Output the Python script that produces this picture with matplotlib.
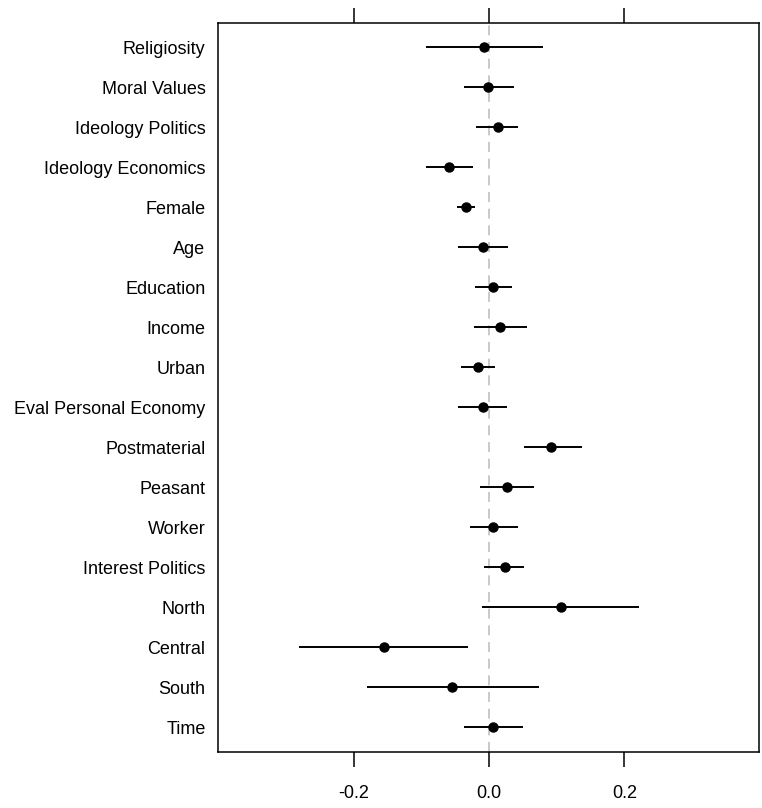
import matplotlib.pyplot as plt
import numpy as np

plt.rcParams['font.family'] = ['Liberation Sans Narrow', 'Liberation Sans', 'DejaVu Sans']

# coefficient estimates with lower / upper interval bounds
variables = ["Religiosity", "Moral Values", "Ideology Politics", "Ideology Economics",
             "Female", "Age", "Education", "Income", "Urban", "Eval Personal Economy",
             "Postmaterial", "Peasant", "Worker", "Interest Politics", "North",
             "Central", "South", "Time"]
estimate = [-0.008, -0.002, 0.013, -0.060, -0.034, -0.009, 0.006, 0.016, -0.016, -0.009,
            0.092, 0.027, 0.006, 0.023, 0.106, -0.156, -0.055, 0.006]
lower = [-0.093, -0.037, -0.019, -0.093, -0.047, -0.046, -0.021, -0.023, -0.042, -0.046,
         0.051, -0.013, -0.029, -0.007, -0.010, -0.281, -0.180, -0.037]
upper = [0.079, 0.036, 0.042, -0.024, -0.021, 0.028, 0.034, 0.056, 0.009, 0.026,
         0.137, 0.066, 0.042, 0.052, 0.222, -0.031, 0.073, 0.050]
xticks = [-0.2, 0.0, 0.2]

fig = plt.figure(figsize=(7.62, 8.08), dpi=100)
ax = fig.add_axes([0.2861, 0.0697, 0.71, 0.9018])

y = np.arange(len(variables))[::-1] + 1
ax.axvline(0, color='#c0c0c0', lw=1.2, ls=(0, (6, 4)), zorder=1)
ax.hlines(y, lower, upper, color='black', lw=1.4, zorder=2)
ax.plot(estimate, y, 'o', color='black', ms=6.5, zorder=3)

ax.set_xlim(-0.401, 0.399)
ax.set_ylim(0.39, len(variables) + 0.61)
ax.set_yticks(y)
ax.set_yticklabels(variables, fontsize=13)
ax.tick_params(axis='y', length=0, pad=9)

ax.set_xticks(xticks)
ax.set_xticklabels([f"{v:.1f}" for v in xticks], fontsize=13)
ax.tick_params(axis='x', direction='out', length=11, width=1.1, pad=13,
               top=True, labeltop=False)
for s in ax.spines.values():
    s.set_linewidth(1.1)

fig.savefig('out.png', dpi=100)
